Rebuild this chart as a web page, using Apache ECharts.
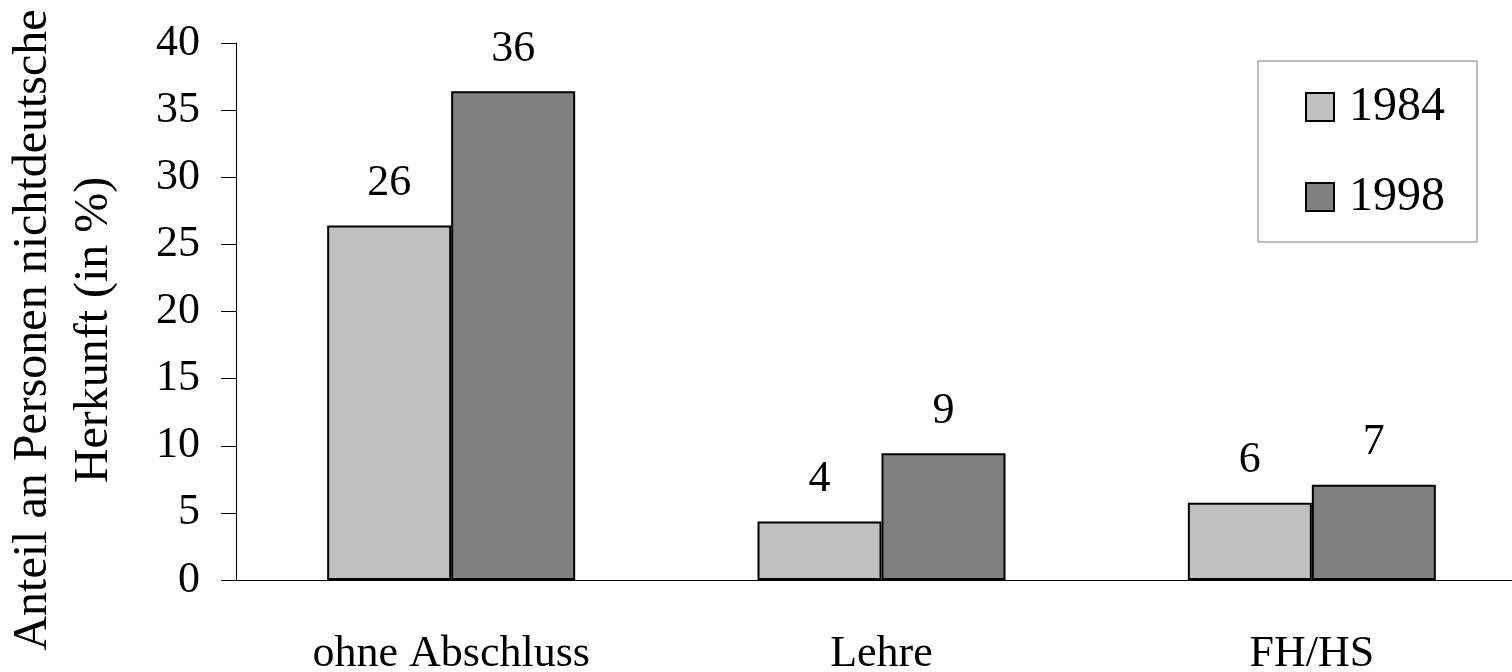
<!DOCTYPE html>
<html>
<head>
<meta charset="utf-8">
<script src="https://cdn.jsdelivr.net/npm/echarts@6/dist/echarts.min.js"></script>
<style>
  html, body { margin: 0; padding: 0; background: #fff; }
  #chart { width: 1512px; height: 672px; }
</style>
</head>
<body>
<div id="chart"></div>
<script>
// Education level categories
const categories = ['ohne Abschluss', 'Lehre', 'FH/HS'];
// Share of persons of non-German origin (%)
const values1984 = [26.4, 4.35, 5.75];
const values1998 = [36.4, 9.45, 7.1];
const seriesNames = ['1984', '1998'];
const yTicks = { min: 0, max: 40, interval: 5 };
const yAxisTitle = 'Anteil an Personen nichtdeutsche\nHerkunft (in %)';

const FONT = '"Liberation Serif", "Times New Roman", serif';

const chart = echarts.init(document.getElementById('chart'), null, { renderer: 'canvas' });

const barLabel = {
  show: true,
  position: 'top',
  distance: 20,
  color: '#000',
  fontFamily: FONT,
  fontSize: 44,
  formatter: p => String(Math.round(p.value))
};

chart.setOption({
  animation: false,
  backgroundColor: '#fff',
  textStyle: { fontFamily: FONT },
  grid: {
    left: 236, right: -15, top: 43, bottom: 92,
    containLabel: false,
    outerBoundsMode: 'none'
  },
  legend: {
    orient: 'vertical',
    left: 1258,
    top: 61,
    padding: [22, 32, 21, 47],
    itemGap: 42,
    itemWidth: 28,
    itemHeight: 28,
    borderColor: '#808080',
    borderWidth: 1,
    icon: 'rect',
    textStyle: {
      fontFamily: FONT, fontSize: 48, lineHeight: 48, color: '#000',
      padding: [0, 0, 0, 10]
    },
    data: seriesNames
  },
  xAxis: {
    type: 'category',
    data: categories,
    axisLine: { lineStyle: { color: '#000', width: 1 } },
    axisTick: { show: false },
    axisLabel: { color: '#000', fontFamily: FONT, fontSize: 44, margin: 52 }
  },
  yAxis: {
    type: 'value',
    min: yTicks.min,
    max: yTicks.max,
    interval: yTicks.interval,
    splitLine: { show: false },
    axisLine: { show: true, lineStyle: { color: '#000', width: 1 } },
    axisTick: { show: true, length: 15, lineStyle: { color: '#000', width: 1 } },
    axisLabel: { color: '#000', fontFamily: FONT, fontSize: 44, margin: 36 },
    name: yAxisTitle,
    nameLocation: 'middle',
    nameRotate: 90,
    nameGap: 111,
    nameTextStyle: {
      color: '#000', fontFamily: FONT, fontSize: 48, lineHeight: 61,
      padding: [0, 37, 0, 0]
    }
  },
  series: [
    {
      name: seriesNames[0],
      type: 'bar',
      data: values1984,
      barWidth: 124,
      barGap: '0%',
      itemStyle: { color: '#c0c0c0', borderColor: '#000', borderWidth: 2 },
      label: barLabel
    },
    {
      name: seriesNames[1],
      type: 'bar',
      data: values1998,
      barWidth: 124,
      barGap: '0%',
      itemStyle: { color: '#808080', borderColor: '#000', borderWidth: 2 },
      label: barLabel
    }
  ]
});
</script>
</body>
</html>
